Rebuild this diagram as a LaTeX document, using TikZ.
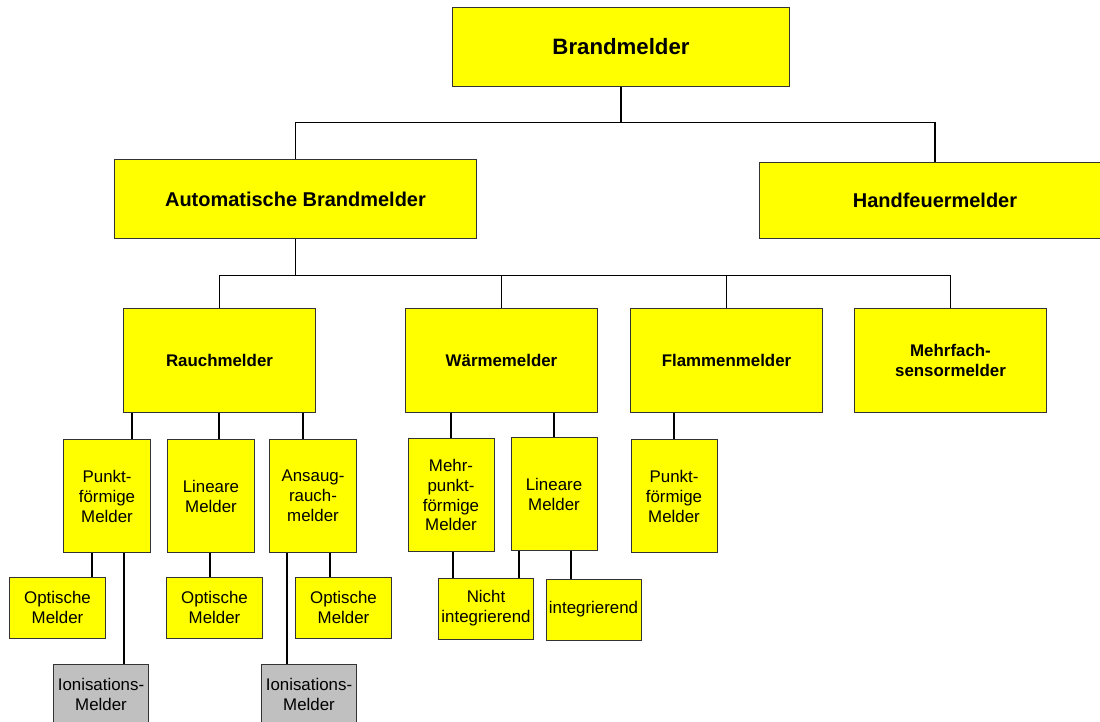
\documentclass[tikz,border=0pt]{standalone}
\usepackage{fontspec}
\setmainfont{Liberation Sans}
\usetikzlibrary{positioning, calc}
\definecolor{iongray}{RGB}{192,192,192}
\definecolor{boxyellow}{RGB}{255,255,0}

\begin{document}
\begin{tikzpicture}[x=0.025cm, y=-0.025cm,
    box/.style={draw=black!80, line width=0.7pt, fill=boxyellow, rectangle, align=center, inner sep=1pt},
    link/.style={draw=black, line width=0.9pt},
    mainbox/.style={box, font=\fontsize{15.8}{18}\selectfont\bfseries},
    groupbox/.style={box, font=\fontsize{14.2}{17}\selectfont\bfseries},
    typebox/.style={box, font=\fontsize{12}{13.7}\selectfont\bfseries, minimum width=4.775cm, minimum height=2.575cm},
    leafbox/.style={box, font=\fontsize{12}{14.2}\selectfont, minimum width=2.15cm, minimum height=2.8cm},
    endbox/.style={box, font=\fontsize{12}{14.2}\selectfont, minimum width=2.375cm, minimum height=1.525cm},
    ionbox/.style={endbox, fill=iongray}]
\useasboundingbox (0,0) rectangle (1100,722);
\clip (0,0) rectangle (1100,722);

% top levels
\node[mainbox, minimum width=8.4cm, minimum height=1.95cm] (brand) at (621,47) {Brandmelder};
\node[groupbox, minimum width=9.025cm, minimum height=1.95cm] (auto) at (295.5,199) {Automatische Brandmelder};
\node[groupbox, minimum width=8.75cm, minimum height=1.875cm] (hand) at (935,200.5) {Handfeuermelder};

\node[typebox] (rauch) at (219.5,360.5) {Rauchmelder};
\node[typebox] (waerme) at (501.5,360.5) {Wärmemelder};
\node[typebox] (flamme) at (726.5,360.5) {Flammenmelder};
\node[typebox] (mehrfach) at (950.5,360.5) {Mehrfach-\\sensormelder};

% Rauchmelder
\node[leafbox] (punkt) at (107,496) {Punkt-\\förmige\\Melder};
\node[leafbox] (linear) at (211,496) {Lineare\\Melder};
\node[leafbox] (ansaug) at (313,496) {Ansaug-\\rauch-\\melder};
\node[endbox] (opt1) at (57.5,607.5) {Optische\\Melder};
\node[ionbox] (ion1) at (101,694.5) {Ionisations-\\Melder};
\node[endbox] (opt2) at (214.5,607.5) {Optische\\Melder};
\node[endbox] (opt3) at (343.5,607.5) {Optische\\Melder};
\node[ionbox] (ion2) at (309,694.5) {Ionisations-\\Melder};

% Waermemelder and Flammenmelder
\node[leafbox] (mehrpunkt) at (451,495) {Mehr-\\punkt-\\förmige\\Melder};
\node[leafbox] (linearw) at (554,494) {Lineare\\Melder};
\node[endbox] (nicht) at (486,608.5) {Nicht\\integrierend};
\node[endbox] (integ) at (593.5,609.5) {integrierend};
\node[leafbox] (punktf) at (674,496) {Punkt-\\förmige\\Melder};

% connectors
\draw[link] (brand.south) -- ++(0,36) coordinate (j1);
\draw[link] (j1) -| (auto.north);
\draw[link] (j1) -| (hand.north);
\draw[link] (auto.south) -- ++(0,37) coordinate (j2);
\draw[link] (j2) -| (rauch.north);
\draw[link] (j2) -| (waerme.north);
\draw[link] (j2) -| (flamme.north);
\draw[link] (j2) -| (mehrfach.north);

\draw[link] (rauch.south -| 132,0) -- (punkt.north -| 132,0);
\draw[link] (rauch.south -| 219,0) -- (linear.north -| 219,0);
\draw[link] (rauch.south -| 303,0) -- (ansaug.north -| 303,0);
\draw[link] (punkt.south -| 92,0) -- (opt1.north -| 92,0);
\draw[link] (punkt.south -| 124,0) -- (ion1.north -| 124,0);
\draw[link] (linear.south -| 210,0) -- (opt2.north -| 210,0);
\draw[link] (ansaug.south -| 330,0) -- (opt3.north -| 330,0);
\draw[link] (ansaug.south -| 287,0) -- (ion2.north -| 287,0);

\draw[link] (waerme.south -| 451,0) -- (mehrpunkt.north -| 451,0);
\draw[link] (waerme.south -| 554,0) -- (linearw.north -| 554,0);
\draw[link] (mehrpunkt.south -| 453,0) -- (nicht.north -| 453,0);
\draw[link] (linearw.south -| 519,0) -- (nicht.north -| 519,0);
\draw[link] (linearw.south -| 571,0) -- (integ.north -| 571,0);
\draw[link] (flamme.south -| 674,0) -- (punktf.north -| 674,0);
\end{tikzpicture}
\end{document}
